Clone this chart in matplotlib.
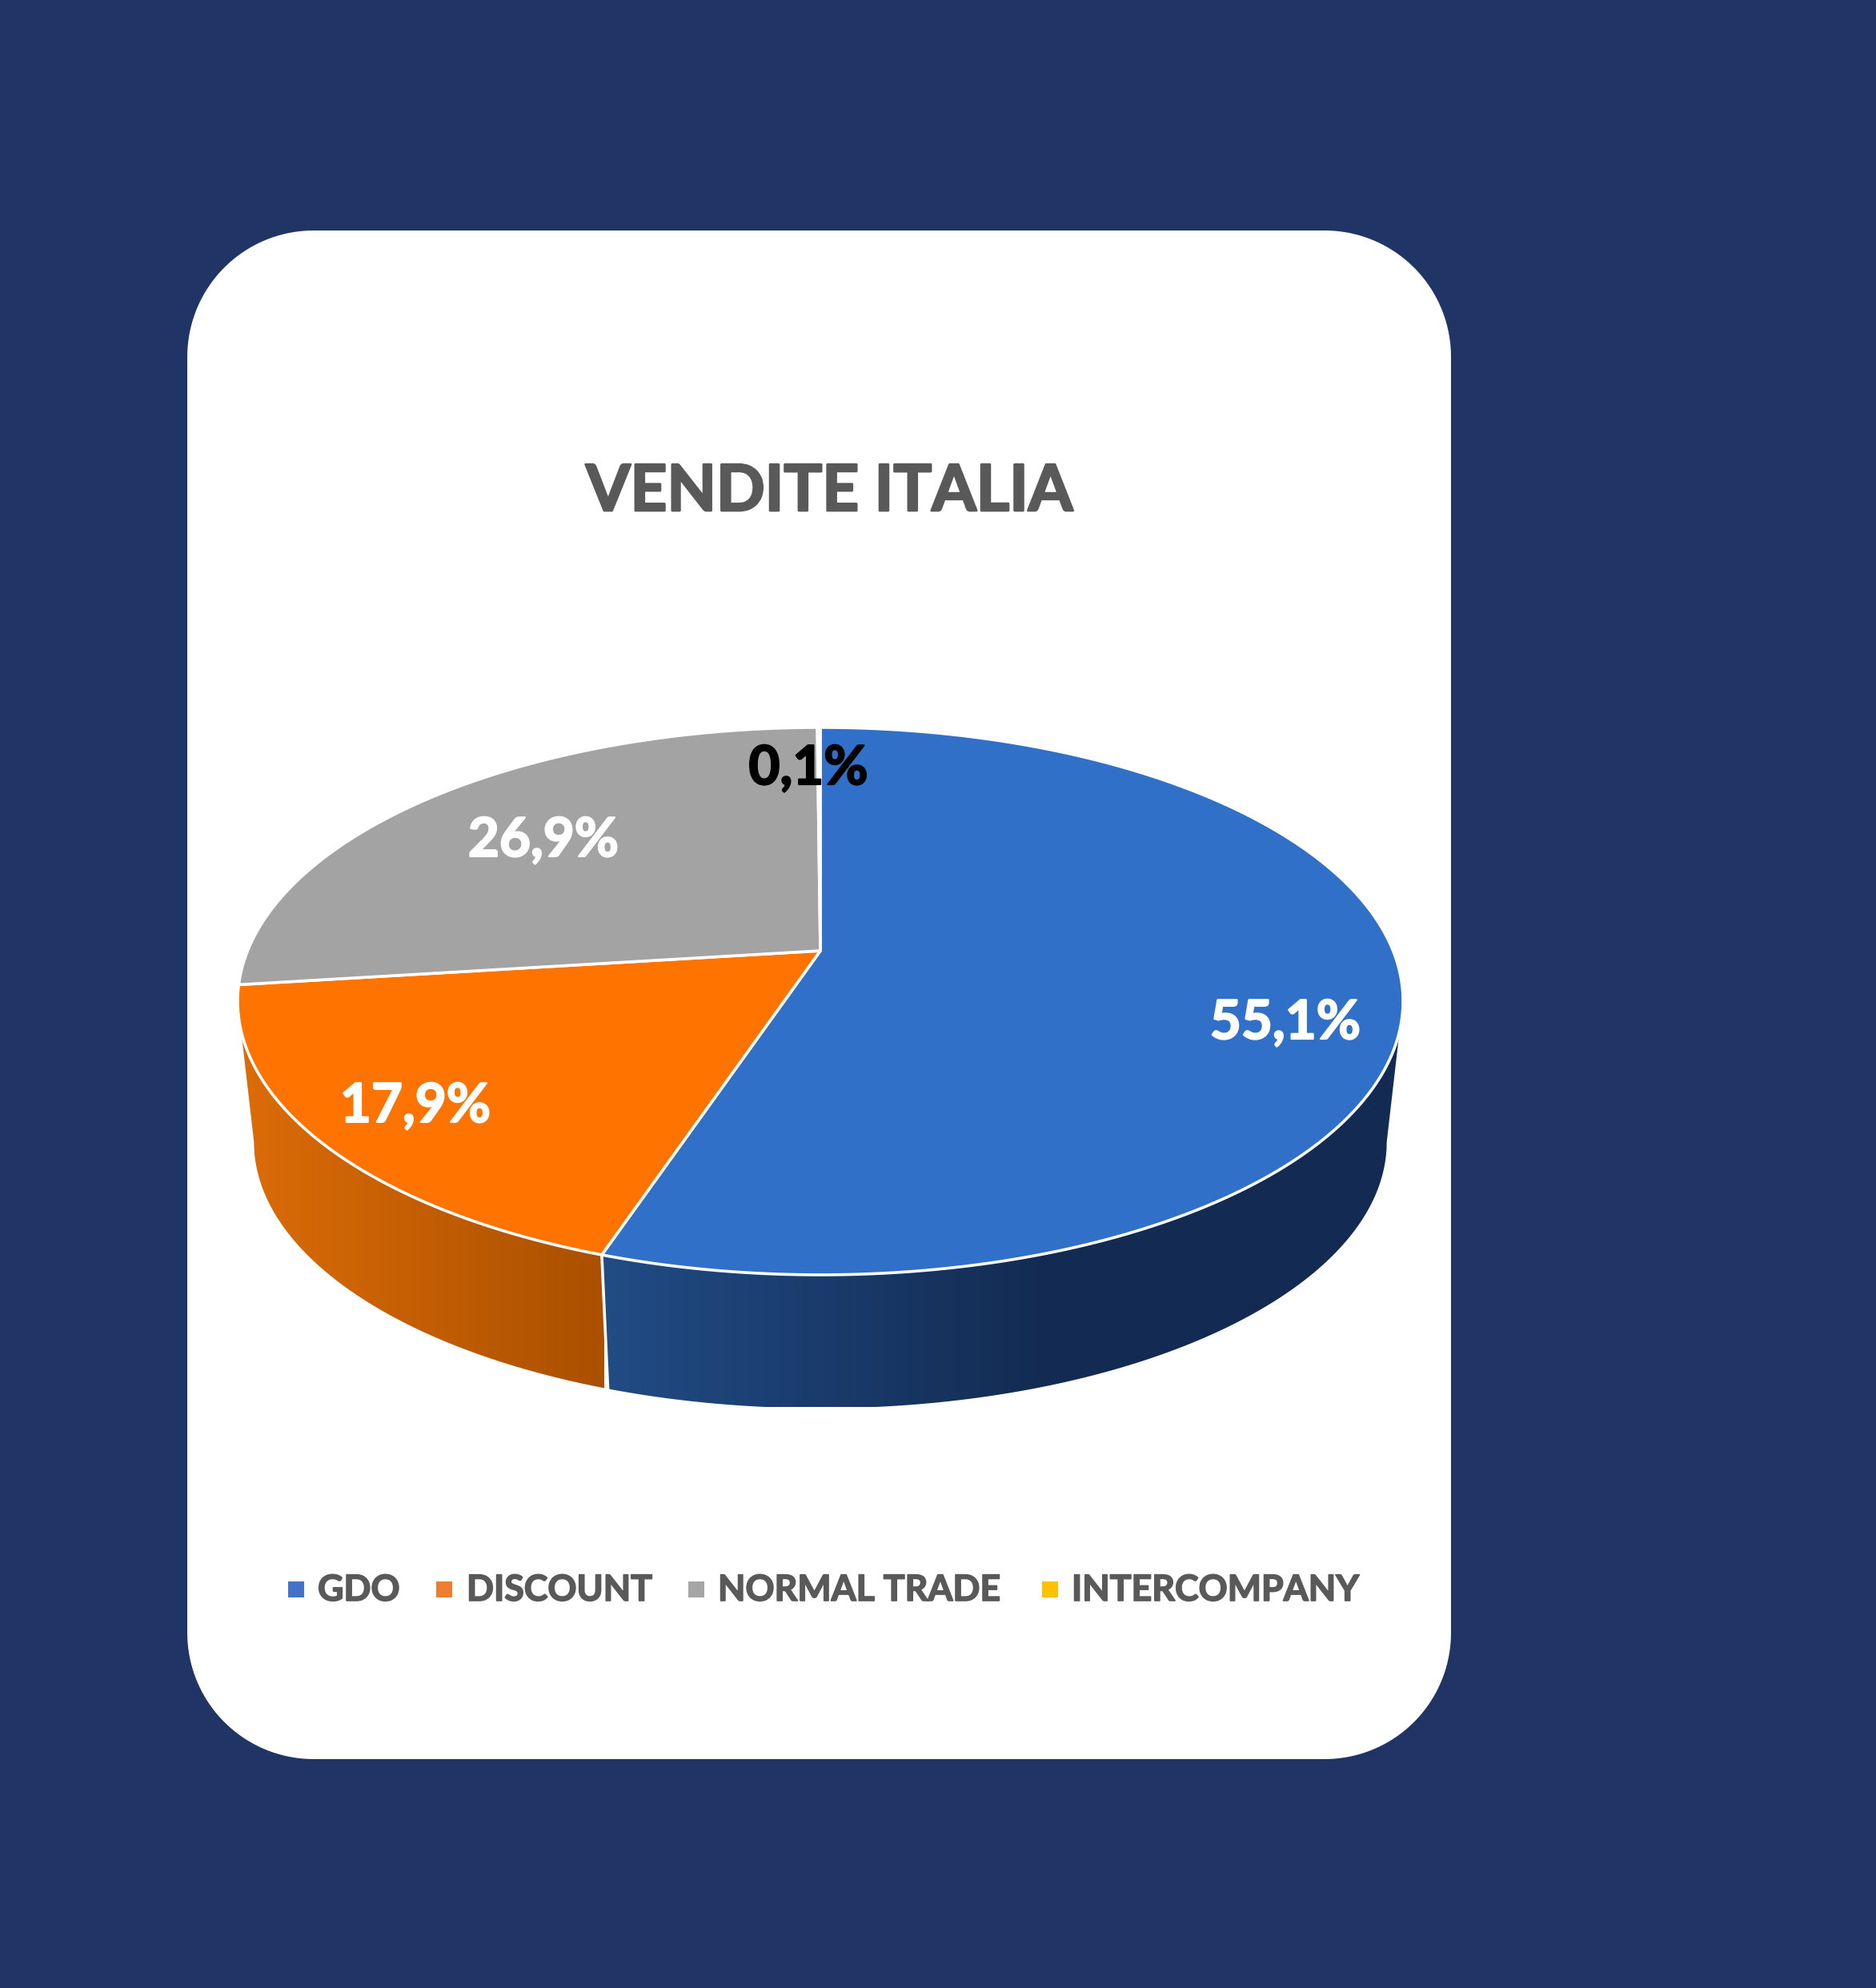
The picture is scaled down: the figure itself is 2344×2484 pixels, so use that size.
import numpy as np
import matplotlib
matplotlib.use('Agg')
import matplotlib.pyplot as plt
import matplotlib.patheffects as pe
from matplotlib.patches import Polygon, Rectangle
from matplotlib.colors import LinearSegmentedColormap

# data
categories = ['GDO', 'DISCOUNT', 'NORMAL TRADE', 'INTERCOMPANY']
shares = [55.1, 17.9, 26.9, 0.1]
title = 'VENDITE ITALIA'

colors = ['#3070C8', '#FF7300', '#A3A3A3', '#FFC000']
legend_colors = ['#4472C4', '#ED7D31', '#A5A5A5', '#FFC000']
grey_text = '#595959'
navy = '#203566'

plt.rcParams['font.family'] = ['Lato', 'DejaVu Sans']

W, H = 2344, 2484
fig = plt.figure(figsize=(W / 100, H / 100), dpi=100, facecolor=navy)
ax = fig.add_axes([0, 0, 1, 1])
ax.axis('off')

# white card with true circular corners
L, R, T, Bt, RAD = 234, 1813, 288, 2198, 158
corners = [(R - RAD, T + RAD, -90), (R - RAD, Bt - RAD, 0),
           (L + RAD, Bt - RAD, 90), (L + RAD, T + RAD, 180)]
card = []
for ccx, ccy, start in corners:
    t = np.radians(np.linspace(start, start + 90, 40))
    card.append(np.c_[ccx + RAD * np.cos(t), ccy + RAD * np.sin(t)])
ax.add_patch(Polygon(np.vstack(card), closed=True, fc='white', ec='none'))

# perspective of the pie: apex is above the centre of the ellipse
CX, CY = 1025, 1188
A, B, K = 715.6, 330.4, 0.184
BOT_Y, BOT_S = 1366, 0.972
CLIP_Y = 1758


def rim(a0, a1, cy=CY, s=1.0):
    t = np.radians(np.linspace(a0, a1, max(int(abs(a1 - a0) * 4), 2)))
    u, v = np.sin(t), np.cos(t)
    d = 1 + K * v
    return CX + s * A * u / d, cy - s * B * v / d


def wall(a0, a1, stops, x0, x1):
    xt, yt = rim(a0, a1)
    xb, yb = rim(a0, a1, BOT_Y, BOT_S)
    pts = np.r_[np.c_[xt, yt], np.c_[xb, np.minimum(yb, CLIP_Y)][::-1]]
    cmap = LinearSegmentedColormap.from_list('w', stops)
    im = ax.imshow(np.linspace(0, 1, 256)[None, :], cmap=cmap, aspect='auto',
                   extent=(x0, x1, CLIP_Y + 5, 1200), zorder=2)
    poly = Polygon(pts, closed=True, fc='none', ec='none', zorder=2)
    ax.add_patch(poly)
    im.set_clip_path(poly)


edges = np.r_[0, np.cumsum(shares)] / 100 * 360
side_r = np.degrees(np.arccos(-K))
side_l = 360 - side_r

# side walls
wall(side_r, edges[1], [(0, '#214C85'), (0.55, '#132B52'), (1, '#132B52')], 750, 1760)
wall(edges[1], side_l, [(0, '#DC6C08'), (1, '#AA5000')], 300, 755)
xa, ya = rim(edges[1], edges[1])
xb, yb = rim(edges[1], edges[1], BOT_Y, BOT_S)
ax.plot([xa[0], xb[0]], [ya[0], yb[0]], color='white', lw=2.6, zorder=3)

# top face
for i, c in enumerate(colors):
    x, y = rim(edges[i], edges[i + 1])
    ax.add_patch(Polygon(np.c_[np.r_[CX, x], np.r_[CY, y]], closed=True, fc=c,
                         ec='white', lw=2.6, joinstyle='round', zorder=4))

# value labels
label_xy = [(1606, 1298), (519, 1402), (679, 1070), (1010, 980)]
label_cols = ['white', 'white', 'white', 'black']
for v, (lx, ly), c in zip(shares, label_xy, label_cols):
    tx = ax.text(lx, ly, f'{v:.1f}'.replace('.', ',') + '%', color=c, fontsize=48.5,
                 fontweight='bold', ha='center', va='baseline', zorder=5)
    tx.set_path_effects([pe.withStroke(linewidth=1.6, foreground=c)])

tt = ax.text(1036, 638, title, color=grey_text, fontsize=57.5, fontweight='bold',
             ha='center', va='baseline', zorder=5)
tt.set_path_effects([pe.withStroke(linewidth=2, foreground=grey_text)])

# legend
mark_x = [360, 545, 860, 1302]
text_x = [397, 583, 897, 1339]
for name, c, mx, tx in zip(categories, legend_colors, mark_x, text_x):
    ax.add_patch(Rectangle((mx, 1976), 20, 20, fc=c, ec='none', zorder=5))
    lt = ax.text(tx, 2000, name, color=grey_text, fontsize=32.2, fontweight='bold',
                 ha='left', va='baseline', zorder=5)
    lt.set_path_effects([pe.withStroke(linewidth=1.2, foreground=grey_text)])

ax.set_xlim(0, W)
ax.set_ylim(H, 0)
fig.savefig('out.png', dpi=100, facecolor=navy)
